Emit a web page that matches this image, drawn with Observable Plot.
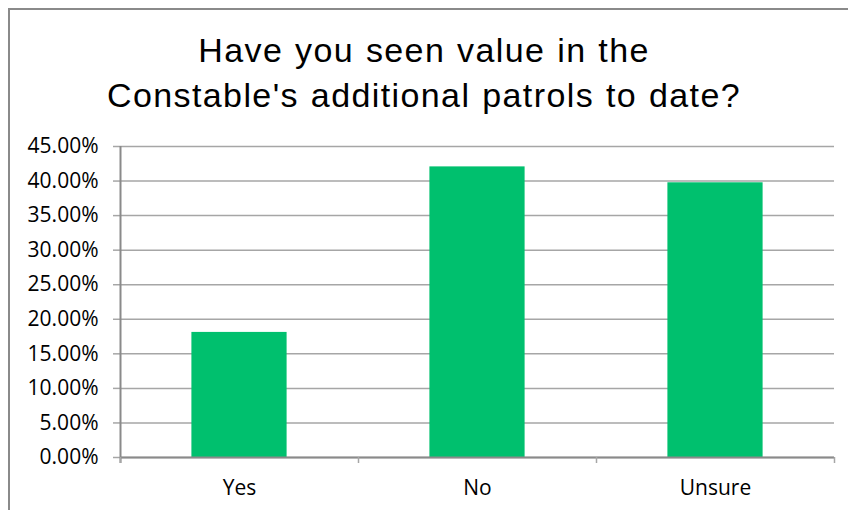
<!DOCTYPE html>
<html>
<head>
<meta charset="utf-8">
<script src="https://cdn.jsdelivr.net/npm/d3@7"></script>
<script src="https://cdn.jsdelivr.net/npm/@observablehq/plot@0.6"></script>
<style>
  html, body { margin: 0; padding: 0; background: #fff; }
  #wrap { position: relative; width: 848px; height: 510px; overflow: hidden; }
  #frame { position: absolute; left: 8px; top: 8px; width: 860px; height: 520px;
           border-left: 2px solid #8a8a8a; border-top: 2px solid #8a8a8a; box-sizing: border-box; }
  #title { position: absolute; left: 0; top: 0; width: 848px; height: 130px; box-sizing: border-box;
           padding-top: 28px; text-align: center; font-family: "Liberation Sans", Arial, sans-serif;
           font-size: 34px; line-height: 45px; letter-spacing: 1.4px; word-spacing: 1px; color: #000; }
  #chart { position: absolute; left: 0; top: 130px; }
</style>
</head>
<body>
<div id="wrap">
  <div id="frame"></div>
  <div id="title">Have you seen value in the<br>Constable's additional patrols to date?</div>
  <div id="chart"></div>
</div>
<script>
const categories = ["Yes", "No", "Unsure"];
const values = [0.181, 0.4205, 0.3975];
const yTicks = [0, 0.05, 0.10, 0.15, 0.20, 0.25, 0.30, 0.35, 0.40, 0.45];

const data = categories.map((c, i) => ({category: c, index: i, value: values[i]}));
const boundaries = d3.range(categories.length + 1).map(i => i - 0.5);
const half = 0.2;

const fontFamily = "'Open Sans', Lato, sans-serif";

const chart = Plot.plot({
  width: 848,
  height: 380,
  marginLeft: 120,
  marginRight: 14,
  marginTop: 16,
  marginBottom: 53,
  style: {fontFamily, fontSize: "21px", color: "#000", background: "transparent"},
  x: {domain: [-0.5, categories.length - 0.5]},
  y: {domain: [0, 0.45]},
  marks: [
    Plot.gridY(yTicks, {stroke: "#a6a6a6", strokeOpacity: 1, strokeWidth: 1.5}),
    Plot.axisY(yTicks, {tickSize: 7, tickPadding: 15, stroke: "#a6a6a6", strokeWidth: 1.5,
      tickFormat: d3.format(".2%"), fill: "#000", label: null}),
    Plot.rectY(data, {x1: d => d.index - half, x2: d => d.index + half, y1: 0, y2: "value", fill: "#00c06e"}),
    Plot.ruleX([-0.5], {stroke: "#8a8a8a", strokeWidth: 2, insetBottom: -6}),
    Plot.ruleY([0], {stroke: "#8a8a8a", strokeWidth: 2}),
    Plot.axisX(boundaries, {tickSize: 6, text: null, stroke: "#a6a6a6", strokeWidth: 1.5, label: null}),
    Plot.axisX(d3.range(categories.length), {tickSize: 0, tickPadding: 23,
      tickFormat: i => categories[i], fill: "#000", label: null})
  ]
});
document.getElementById("chart").appendChild(chart);
</script>
</body>
</html>
